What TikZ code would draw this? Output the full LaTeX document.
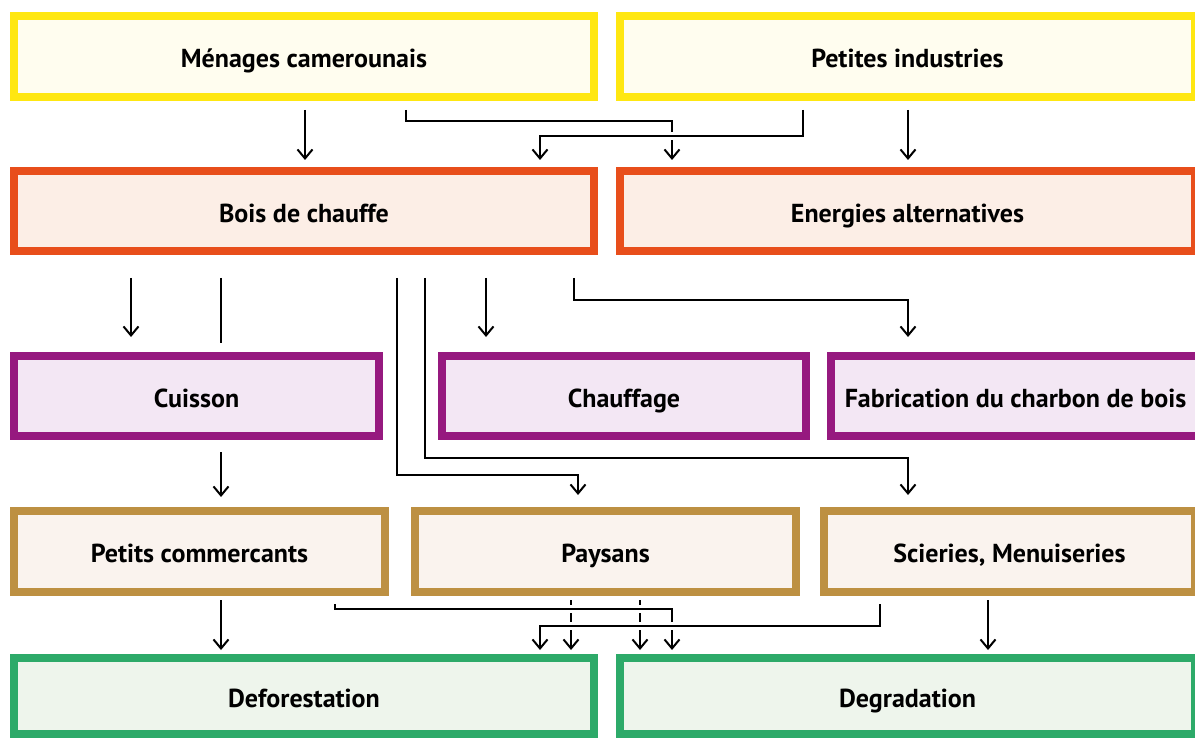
\documentclass[tikz,border=0pt]{standalone}
\usepackage{fontspec}
\setmainfont{PT Sans}
\usetikzlibrary{arrows.meta}

\definecolor{ylwB}{HTML}{FFE711}\definecolor{ylwF}{HTML}{FFFDEF}
\definecolor{orgB}{HTML}{E84E1B}\definecolor{orgF}{HTML}{FCEEE6}
\definecolor{purB}{HTML}{96197F}\definecolor{purF}{HTML}{F3E7F4}
\definecolor{tanB}{HTML}{BD9042}\definecolor{tanF}{HTML}{FAF3EE}
\definecolor{grnB}{HTML}{2DAA69}\definecolor{grnF}{HTML}{EEF5EC}

\tikzset{
  box/.style={draw, line width=8pt, inner sep=0pt, outer sep=0pt,
    font=\fontsize{26}{30}\selectfont\bfseries, text=black,
    text height=22.4pt, text depth=0pt},
  ybox/.style={box, draw=ylwB, fill=ylwF},
  obox/.style={box, draw=orgB, fill=orgF},
  pbox/.style={box, draw=purB, fill=purF},
  tbox/.style={box, draw=tanB, fill=tanF},
  gbox/.style={box, draw=grnB, fill=grnF},
  conn/.style={draw=black, line width=2pt, -{Straight Barb[length=9pt,width=15pt]}},
  plain/.style={draw=black, line width=2pt},
  halo/.style={draw=white, line width=8pt},
}

\begin{document}
\begin{tikzpicture}[x=1pt,y=-1pt]
\useasboundingbox (0,0) rectangle (1195,738);
\clip (0,0) rectangle (1195,738);

% boxes: centre, inner size = outer size minus border width
\node[ybox, minimum width=580pt, minimum height=81pt] (men) at (304,56.5) {Ménages camerounais};
\node[ybox, minimum width=575pt, minimum height=81pt] (pet) at (907.5,56.5) {Petites industries};
\node[obox, minimum width=580pt, minimum height=80pt] (bois) at (304,211) {Bois de chauffe};
\node[obox, minimum width=575pt, minimum height=80pt] (ener) at (907.5,211) {Energies alternatives};
\node[pbox, minimum width=365pt, minimum height=80pt] (cui) at (196.5,396) {Cuisson};
\node[pbox, minimum width=364pt, minimum height=80pt] (chau) at (624,396) {Chauffage};
\node[pbox, minimum width=369pt, minimum height=80pt] (fab) at (1015.5,396) {Fabrication du charbon de bois};
\node[tbox, minimum width=371pt, minimum height=81pt] (pc) at (199.5,551.5) {Petits commercants};
\node[tbox, minimum width=381pt, minimum height=81pt] (pay) at (605.5,551.5) {Paysans};
\node[tbox, minimum width=371pt, minimum height=81pt] (sci) at (1009.5,551.5) {Scieries, Menuiseries};
\node[gbox, minimum width=580pt, minimum height=76pt] (def) at (304,696) {Deforestation};
\node[gbox, minimum width=575pt, minimum height=76pt] (deg) at (907.5,696) {Degradation};

% columns and elbow heights of the connectors
\foreach \c in {131,221,305,335,397,406,425,486,540,571,574,578,640,672,803,880,908,988}
  {\coordinate (x\c) at (\c,0);}
\foreach \r in {121,136,300,458,475,609,626}
  {\coordinate (y\r) at (0,\r);}

% users -> energy sources
\draw[conn, shorten <=13pt, shorten >=11pt] (men.south -| x305) -- (bois.north -| x305);
\draw[conn, shorten <=13pt, shorten >=11pt] (men.south -| x406) |- (x672 |- y121) -- (ener.north -| x672);
\draw[halo] (x803 |- y136) -- (x540 |- y136);
\draw[conn, shorten <=13pt, shorten >=11pt] (pet.south -| x803) |- (x540 |- y136) -- (bois.north -| x540);
\draw[conn, shorten <=13pt, shorten >=11pt] (pet.south -| x908) -- (ener.north -| x908);

% uses of fuelwood
\draw[conn, shorten <=27pt, shorten >=19pt] (bois.south -| x131) -- (cui.north -| x131);
\draw[plain, shorten <=27pt, shorten >=13pt] (bois.south -| x221) -- (cui.north -| x221);
\draw[conn, shorten <=27pt, shorten >=19pt] (bois.south -| x486) -- (chau.north -| x486);
\draw[conn, shorten <=27pt, shorten >=19pt] (bois.south -| x574) |- (x908 |- y300) -- (fab.north -| x908);
\draw[conn, shorten <=27pt, shorten >=16pt] (bois.south -| x397) |- (x578 |- y475) -- (pay.north -| x578);
\draw[conn, shorten <=27pt, shorten >=16pt] (bois.south -| x425) |- (x908 |- y458) -- (sci.north -| x908);
\draw[conn, shorten <=16pt, shorten >=14pt] (cui.south -| x221) -- (pc.north -| x221);

% actors -> consequences
\draw[conn, shorten <=8pt, shorten >=8pt] (pc.south -| x221) -- (def.north -| x221);
\draw[conn, shorten <=8pt, shorten >=8pt] (pay.south -| x571) -- (def.north -| x571);
\draw[conn, shorten <=8pt, shorten >=8pt] (pay.south -| x640) -- (deg.north -| x640);
\draw[halo] (x335 |- y609) -- (x672 |- y609);
\draw[conn, shorten <=12pt, shorten >=8pt] (pc.south -| x335) |- (x672 |- y609) -- (deg.north -| x672);
\draw[halo] (x880 |- y626) -- (x540 |- y626);
\draw[conn, shorten <=12pt, shorten >=8pt] (sci.south -| x880) |- (x540 |- y626) -- (def.north -| x540);
\draw[conn, shorten <=8pt, shorten >=8pt] (sci.south -| x988) -- (deg.north -| x988);
\end{tikzpicture}
\end{document}
